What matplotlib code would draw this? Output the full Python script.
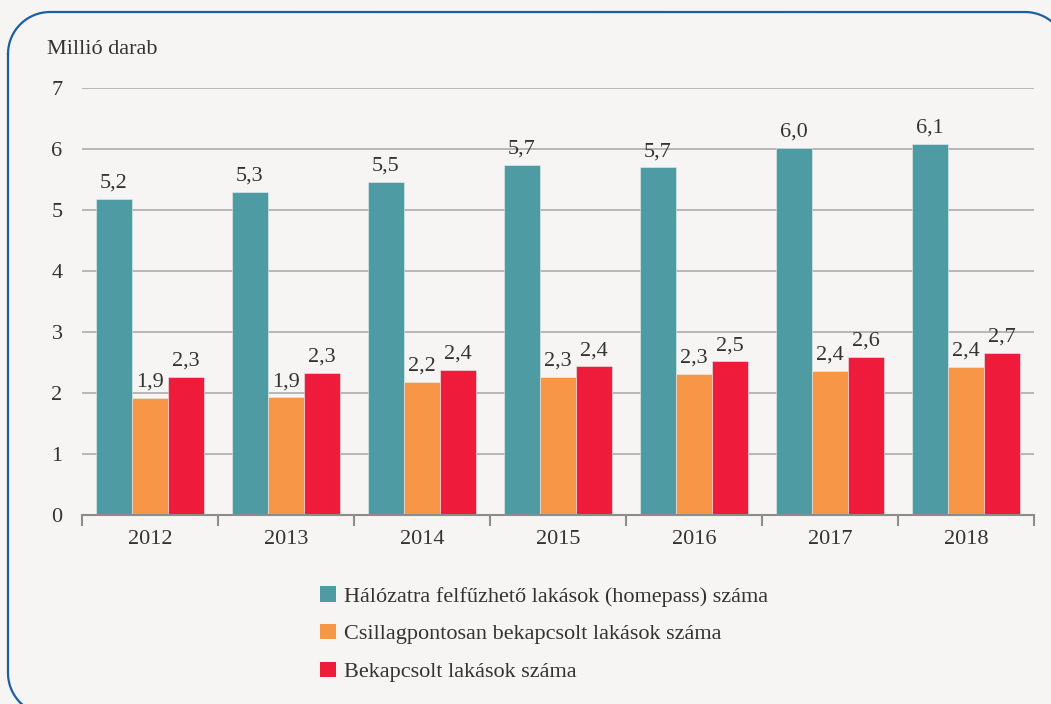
import matplotlib
matplotlib.use("Agg")
import matplotlib.pyplot as plt
from matplotlib.patches import Patch
import numpy as np

years = ["2012", "2013", "2014", "2015", "2016", "2017", "2018"]
homepass = [5.18, 5.30, 5.46, 5.74, 5.70, 6.02, 6.08]
star_connected = [1.92, 1.93, 2.18, 2.26, 2.31, 2.36, 2.43]
connected = [2.26, 2.33, 2.38, 2.44, 2.52, 2.59, 2.66]
series_names = [
    "Hálózatra felfűzhető lakások (homepass) száma",
    "Csillagpontosan bekapcsolt lakások száma",
    "Bekapcsolt lakások száma",
]
colors = ["#4E9BA3", "#F79646", "#EE1B3B"]
y_label = "Millió darab"

plt.rcParams["font.family"] = ["Liberation Serif", "DejaVu Serif"]
text_color = "#333333"
bg = "#F6F5F3"
fs = 16

fig = plt.figure(figsize=(10.51, 7.04), dpi=100)
fig.patch.set_facecolor(bg)

# rounded frame overlay in pixel coordinates
ov = fig.add_axes([0, 0, 1, 1], zorder=0)
ov.set_xlim(0, 1051)
ov.set_ylim(704, 0)
ov.axis("off")
ov.patch.set_alpha(0)
L, T, R, B, r = 8, 12, 1067, 715, 42
def arc(cx, cy, a0, a1):
    t = np.radians(np.linspace(a0, a1, 40))
    return cx + r * np.cos(t), cy - r * np.sin(t)
xs, ys = [], []
for cx, cy, a0, a1 in [(L + r, T + r, 180, 90), (R - r, T + r, 90, 0),
                       (R - r, B - r, 0, -90), (L + r, B - r, -90, -180)]:
    ax_, ay_ = arc(cx, cy, a0, a1)
    xs.extend(ax_); ys.extend(ay_)
xs.append(xs[0]); ys.append(ys[0])
ov.plot(xs, ys, color="#1B5FA2", linewidth=1.6, clip_on=False)

ax = fig.add_axes([82 / 1051, (704 - 515) / 704, 952 / 1051, 427 / 704], zorder=1)
ax.patch.set_alpha(0)

x = np.arange(len(years))
w = 0.265
for i, (vals, col) in enumerate(zip([homepass, star_connected, connected], colors)):
    pos = x + (i - 1) * w
    ax.bar(pos, vals, width=w, color=col, edgecolor="#e8f0f0", linewidth=0.4, zorder=3)
    for px, v in zip(pos, vals):
        ax.text(px, v + 0.1, f"{v:.1f}".replace(".", ","), ha="center", va="bottom",
                fontsize=fs, color=text_color)

ax.set_ylim(0, 7)
ax.set_xlim(-0.5, len(years) - 0.5)
ax.set_yticks(range(0, 8))
ax.yaxis.grid(True, color="#A6A6A6", linewidth=1.1)
ax.set_axisbelow(True)
for s in ["top", "right", "left"]:
    ax.spines[s].set_visible(False)
ax.spines["bottom"].set_color("#8C8C8C")
ax.spines["bottom"].set_linewidth(1.5)
ax.spines["bottom"].set_zorder(4)

ax.set_xticks(x)
ax.set_xticklabels(years)
ax.set_xticks(np.arange(-0.5, len(years)), minor=True)
ax.tick_params(axis="x", which="major", length=0, pad=11, labelsize=fs, labelcolor=text_color)
ax.tick_params(axis="x", which="minor", length=8, width=1.5, color="#8C8C8C")
ax.tick_params(axis="y", length=0, pad=14, labelsize=fs, labelcolor=text_color)

fig.text(47 / 1051, 1 - 50 / 704, y_label, fontsize=fs, color=text_color, va="center", ha="left")

handles = [Patch(facecolor=c, edgecolor="none") for c in colors]
fig.legend(handles, series_names, loc="upper left",
           bbox_to_anchor=(300 / 1051, 1 - 566 / 704), frameon=False,
           fontsize=fs, handlelength=0.7, handleheight=0.7, handletextpad=0.4,
           labelspacing=0.78, labelcolor=text_color)

fig.savefig("out.png", dpi=100, facecolor=bg)
